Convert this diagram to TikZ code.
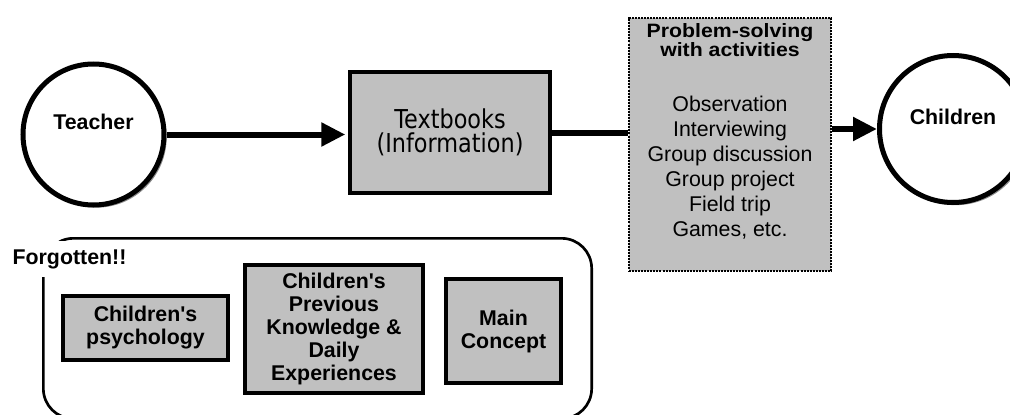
\documentclass[tikz,border=0pt]{standalone}
\usepackage{fontspec}
\setmainfont{Liberation Sans}[Ligatures=TeXOff]
\newfontfamily\bookfont[FakeStretch=0.86]{DejaVu Sans}
\newfontfamily\titlefont[FakeStretch=1.1]{Liberation Sans}
\usetikzlibrary{arrows.meta,shadows}
\definecolor{boxgray}{HTML}{C0C0C0}
\begin{document}
\begin{tikzpicture}[x=0.75pt,y=-0.75pt,
  every node/.style={inner sep=0pt, align=center},
  actor/.style={circle, draw, line width=3.75pt, fill=white,
    font=\fontsize{16}{19}\selectfont\bfseries, text height=12pt, text depth=19pt,
    drop shadow={shadow xshift=2pt, shadow yshift=-2pt, fill=black!45, opacity=1}},
  graybox/.style={draw, line width=3pt, fill=boxgray},
  ideabox/.style={graybox, font=\fontsize{16}{17.25}\selectfont\bfseries},
  flow/.style={line width=4.5pt, -{Triangle[length=18pt,width=17pt]}},
  link/.style={line width=4.5pt}
]
\path[use as bounding box] (0,0) rectangle (1010,414);
\clip (0,0) rectangle (1010,414);

% teaching chain along the top
\node[actor, minimum size=105.75pt] (teacher) at (93.5,134.5) {Teacher};
\node[graybox, minimum width=150pt, minimum height=90.75pt,
      font=\bookfont\fontsize{19.5}{18}\selectfont] (books) at (450,132.5) {Textbooks\\(Information)};
\node[draw, fill=boxgray, line width=1.2pt, dash pattern=on 1.5pt off 0.8pt,
      minimum width=151.8pt, minimum height=190pt] (problem) at (730,144.5) {};
\node[anchor=north, font=\titlefont\bfseries\fontsize{14.5}{13}\selectfont] (ptitle) at (730,23)
      {Problem-solving\\with activities};
\node[anchor=north, font=\fontsize{16}{18.75}\selectfont] (plist) at (730,96)
      {Observation\\Interviewing\\Group discussion\\Group project\\Field trip\\Games, etc.};
\node[actor, minimum size=110.25pt] (children) at (953,129) {Children};

\draw[flow, shorten >=2pt] (teacher.east) -- (teacher.east -| books.west);
\draw[link] (books.east) -- (books.east -| problem.west);
\draw[flow] (children.west -| problem.east) -- (children.west);

% the forgotten elements
\node[draw, line width=2pt, rounded corners=22.5pt, minimum width=411.25pt, minimum height=135.25pt]
      (frame) at (317.5,328.5) {};
\node[fill=white, inner xsep=2pt, inner ysep=6pt, anchor=base,
      font=\fontsize{16}{19}\selectfont\bfseries] (forgot) at (69.5,264) {Forgotten!!};
\node[ideabox, minimum width=123.75pt, minimum height=48pt] (psych) at (145.5,328) {Children's\\psychology};
\node[ideabox, minimum width=133.5pt, minimum height=96pt] (prior) at (334,329)
      {Children's\\Previous\\Knowledge \&\\Daily\\Experiences};
\node[ideabox, minimum width=86.25pt, minimum height=78pt] (concept) at (503.5,331) {Main\\Concept};
\end{tikzpicture}
\end{document}
